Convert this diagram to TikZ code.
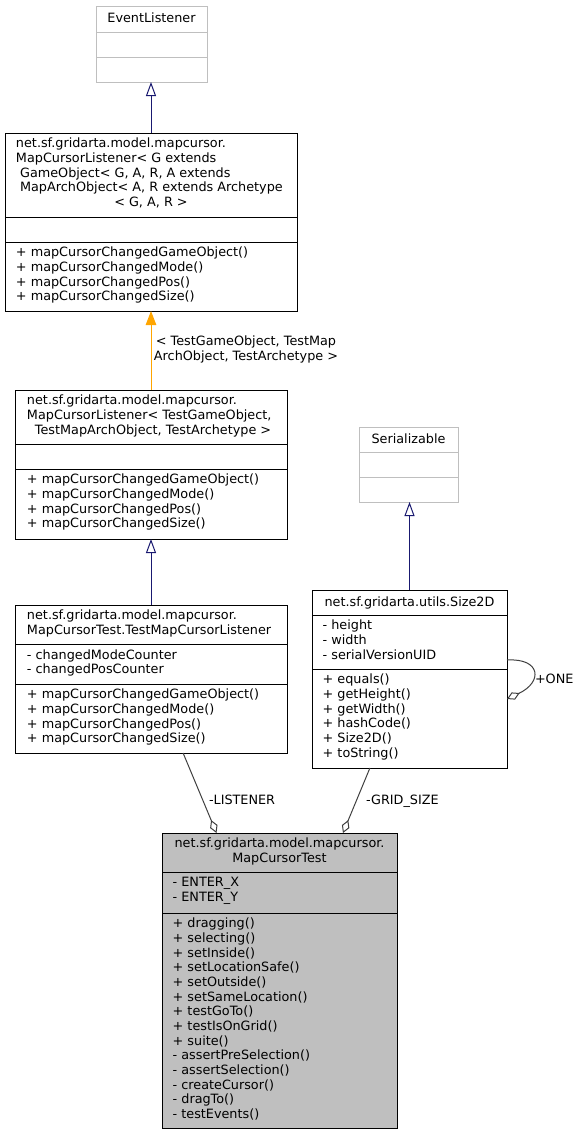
\documentclass[tikz,border=0pt]{standalone}
\usepackage{fontspec}
\setmainfont{DejaVu Sans}
\usetikzlibrary{arrows.meta,calc}
\definecolor{mblue}{HTML}{191970}
\definecolor{orng}{HTML}{FFA500}
\definecolor{gdark}{HTML}{404040}
\definecolor{glight}{HTML}{BFBFBF}
\newcommand\fs{\fontsize{12.8pt}{14.67pt}\selectfont}
\newcommand\umlcls[8]{%
  \node[#8, minimum width=#4, minimum height=#5, anchor=north west] (#1) at (#2,#3) {};
  \draw[#8] ($(#1.north west)+(0,#6)$) -- ($(#1.north east)+(0,#6)$);
  \draw[#8] ($(#1.north west)+(0,#7)$) -- ($(#1.north east)+(0,#7)$);
}
\tikzset{
  cls/.style={draw=black, line width=1pt, fill=white, inner sep=0pt, outer sep=0pt},
  ext/.style={draw=glight, line width=1pt, fill=white, inner sep=0pt, outer sep=0pt},
  mainc/.style={draw=black, line width=1pt, fill=glight, inner sep=0pt, outer sep=0pt},
  tx/.style={inner sep=0pt, outer sep=0pt, font=\fs, align=left, execute at begin node={\rule{0pt}{11pt}}},
  inh/.style={draw=mblue, line width=1pt, -{Triangle[open, length=14pt, width=10pt]}},
  tmpl/.style={draw=orng, line width=1pt, -{Triangle[length=14pt, width=10.5pt]}},
  agg/.style={draw=gdark, line width=1pt, -{Diamond[open, length=14pt, width=8pt]}},
}
\begin{document}
\begin{tikzpicture}[x=1pt,y=-1pt]
\useasboundingbox (0,0) rectangle (579,1135);
% classes
\umlcls{A}{96}{6}{111}{76}{26}{51}{ext}
\umlcls{B}{5}{133}{292}{178}{84}{109}{cls}
\umlcls{C}{15}{390}{272}{149}{54}{79}{cls}
\umlcls{D}{359}{427}{99}{75}{25}{50}{ext}
\umlcls{E}{15}{605}{272}{148}{39}{79}{cls}
\umlcls{F}{312}{590}{195}{178}{25}{79}{cls}
\umlcls{G}{162}{833}{235}{295}{39}{80}{mainc}
% texts
\node[tx, anchor=north, align=center] (At) at ($(A.north)+(0,5.7)$) {EventListener};
\node[tx, anchor=north west] (Bt) at ($(B.north west)+(11,5.2)$) {net.sf.gridarta.model.mapcursor.\\MapCursorListener< G extends\\\hspace*{0.32em}GameObject< G, A, R, A extends\\\hspace*{0.32em}MapArchObject< A, R extends Archetype\\\makebox[270pt]{< G, A, R >}};
\node[tx, anchor=north west] (Bm) at ($(B.north west)+(11,114.2)$) {+ mapCursorChangedGameObject()\\+ mapCursorChangedMode()\\+ mapCursorChangedPos()\\+ mapCursorChangedSize()};
\node[tx, anchor=north west] (Ct) at ($(C.north west)+(12,5.2)$) {net.sf.gridarta.model.mapcursor.\\MapCursorListener< TestGameObject,\\\makebox[248pt]{\hspace*{0.32em}TestMapArchObject, TestArchetype >}};
\node[tx, anchor=north west] (Cm) at ($(C.north west)+(12,84.2)$) {+ mapCursorChangedGameObject()\\+ mapCursorChangedMode()\\+ mapCursorChangedPos()\\+ mapCursorChangedSize()};
\node[tx, anchor=north, align=center] (Dt) at ($(D.north)+(0,5.2)$) {Serializable};
\node[tx, anchor=north west] (Et) at ($(E.north west)+(12,5.2)$) {net.sf.gridarta.model.mapcursor.\\MapCursorTest.TestMapCursorListener};
\node[tx, anchor=north west] (Ea) at ($(E.north west)+(12,44.5)$) {- changedModeCounter\\- changedPosCounter};
\node[tx, anchor=north west] (Em) at ($(E.north west)+(12,84.2)$) {+ mapCursorChangedGameObject()\\+ mapCursorChangedMode()\\+ mapCursorChangedPos()\\+ mapCursorChangedSize()};
\node[tx, anchor=north, align=center] (Ft) at ($(F.north)+(0,5.2)$) {net.sf.gridarta.utils.Size2D};
\node[tx, anchor=north west] (Fa) at ($(F.north west)+(10.7,30.2)$) {- height\\- width\\- serialVersionUID};
\node[tx, anchor=north west] (Fm) at ($(F.north west)+(10.7,84.2)$) {+ equals()\\+ getHeight()\\+ getWidth()\\+ hashCode()\\+ Size2D()\\+ toString()};
\node[tx, anchor=north, align=center] (Gt) at ($(G.north)+(0,5.2)$) {net.sf.gridarta.model.mapcursor.\\MapCursorTest};
\node[tx, anchor=north west] (Ga) at ($(G.north west)+(10.7,44.5)$) {- ENTER\_X\\- ENTER\_Y};
\node[tx, anchor=north west] (Gm) at ($(G.north west)+(10.7,85.2)$) {+ dragging()\\+ selecting()\\+ setInside()\\+ setLocationSafe()\\+ setOutside()\\+ setSameLocation()\\+ testGoTo()\\+ testIsOnGrid()\\+ suite()\\- assertPreSelection()\\- assertSelection()\\- createCursor()\\- dragTo()\\- testEvents()};
% connectors
\draw[inh] (B.north) -- (B.north |- A.south);
\draw[tmpl] (C.north) -- (C.north |- B.south);
\node[tx, anchor=north, align=center] (Lt) at (246,336) {< TestGameObject, TestMap\\ArchObject, TestArchetype >};
\draw[inh] (E.north) -- (E.north |- C.south);
\draw[inh] (F.north) -- (F.north |- D.south);
\draw[agg] ($(E.south west)!0.618!(E.south east)$) -- ($(G.north west)!0.232!(G.north east)$);
\node[tx, anchor=north west] (L1) at (209,793) {-LISTENER};
\draw[agg] ($(F.south west)!0.297!(F.south east)$) -- ($(G.north west)!0.77!(G.north east)$);
\node[tx, anchor=north west] (L2) at (366,793) {-GRID\_SIZE};
\draw[agg] ($(F.north east)+(0,70)$) .. controls ($(F.north east)+(34,68)$) and ($(F.north east)+(36,92)$) .. ($(F.north east)+(0,109)$);
\node[tx, anchor=north west] (L3) at (535,672) {+ONE};
\end{tikzpicture}
\end{document}
